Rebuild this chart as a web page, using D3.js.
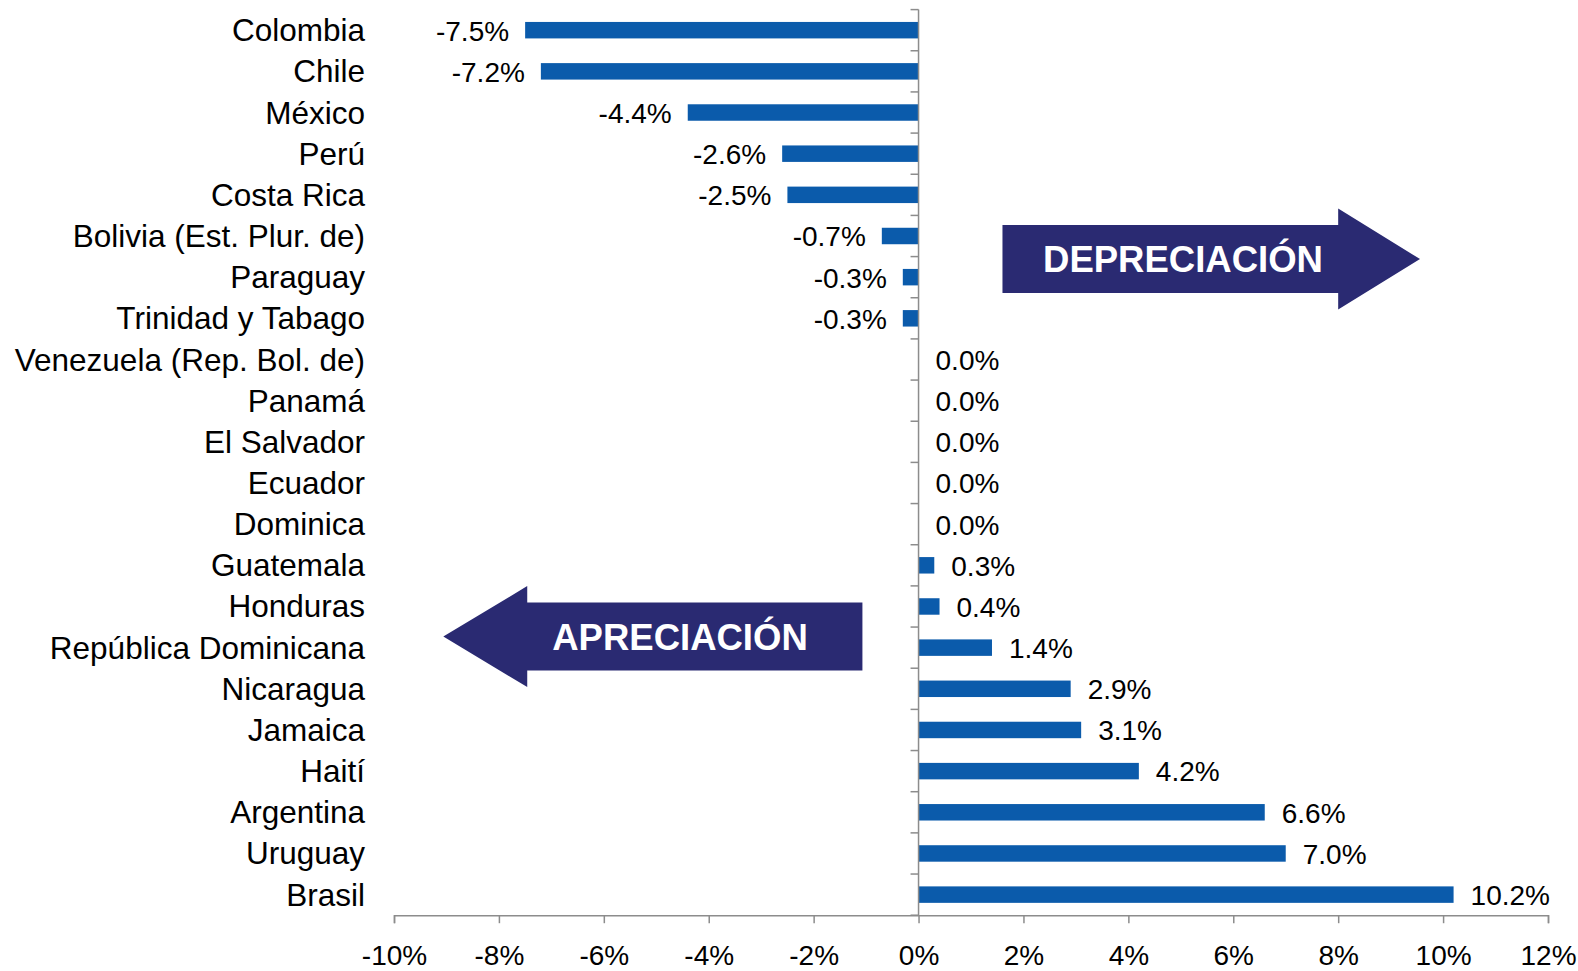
<!DOCTYPE html>
<html>
<head>
  <meta charset="utf-8">
  <title>Variación del tipo de cambio</title>
  <script src="https://cdn.jsdelivr.net/npm/d3@7"></script>
  <style>
    body { margin: 0; background: #fff; }
    text { font-family: "Liberation Sans", Arial, sans-serif; }
  </style>
</head>
<body>
  <svg width="1578" height="971"></svg>
  <script>
// datos
const paises = ["Colombia", "Chile", "México", "Perú", "Costa Rica", "Bolivia (Est. Plur. de)",
  "Paraguay", "Trinidad y Tabago", "Venezuela (Rep. Bol. de)", "Panamá", "El Salvador",
  "Ecuador", "Dominica", "Guatemala", "Honduras", "República Dominicana", "Nicaragua",
  "Jamaica", "Haití", "Argentina", "Uruguay", "Brasil"];
const variacion = [-7.5, -7.2, -4.4, -2.6, -2.5, -0.7, -0.3, -0.3, 0, 0, 0, 0, 0,
  0.3, 0.4, 1.4, 2.9, 3.1, 4.2, 6.6, 7.0, 10.2];
const ticksX = [-10, -8, -6, -4, -2, 0, 2, 4, 6, 8, 10, 12];

const data = paises.map((p, i) => ({ pais: p, v: variacion[i] }));

const svg = d3.select("svg");
const barColor = "#0b5bab";
const axisColor = "#8c8c8c";
const navy = "#2a2a72";

const x = d3.scaleLinear().domain([-10, 12]).range([394, 1548]);
const y = d3.scaleBand().domain(paises).range([9.6, 915.2]).paddingInner(0.6).paddingOuter(0.3);
const step = y.step();

// guion normal en vez del signo menos
const fmt = v => d3.format(".1f")(v).replace("\u2212", "-") + "%";

// barras
svg.append("g").selectAll("rect")
  .data(data.filter(d => d.v !== 0))
  .join("rect")
  .attr("x", d => x(Math.min(0, d.v)))
  .attr("y", d => y(d.pais))
  .attr("width", d => Math.abs(x(d.v) - x(0)))
  .attr("height", y.bandwidth())
  .attr("fill", barColor);

// eje x
const xAxis = svg.append("g")
  .attr("transform", `translate(0,${915.2})`)
  .call(d3.axisBottom(x).tickValues(ticksX).tickSize(8).tickPadding(22)
    .tickFormat(d => d + "%"));
xAxis.select(".domain").attr("stroke", axisColor).attr("stroke-width", 1.5);
xAxis.selectAll(".tick line").attr("stroke", axisColor).attr("stroke-width", 1.5);
xAxis.selectAll(".tick text").attr("fill", "#000").style("font-size", "28px")
  .style("font-family", '"Liberation Sans", Arial, sans-serif');

// eje vertical en 0
const g0 = svg.append("g");
g0.append("line")
  .attr("x1", x(0)).attr("x2", x(0))
  .attr("y1", 9.6).attr("y2", 915.2)
  .attr("stroke", axisColor).attr("stroke-width", 1.5);
g0.selectAll("line.tk")
  .data(d3.range(paises.length + 1))
  .join("line")
  .attr("class", "tk")
  .attr("x1", x(0) - 8).attr("x2", x(0))
  .attr("y1", i => 9.6 + i * step).attr("y2", i => 9.6 + i * step)
  .attr("stroke", axisColor).attr("stroke-width", 1.5);

// etiquetas de categorías
svg.append("g").selectAll("text")
  .data(data)
  .join("text")
  .attr("x", 365)
  .attr("y", d => y(d.pais) + y.bandwidth() / 2)
  .attr("dy", "0.35em")
  .attr("text-anchor", "end")
  .style("font-size", "31.5px")
  .attr("fill", "#000")
  .text(d => d.pais);

// etiquetas de valores
svg.append("g").selectAll("text")
  .data(data)
  .join("text")
  .attr("x", d => d.v < 0 ? x(d.v) - 16 : x(d.v) + 17)
  .attr("y", d => y(d.pais) + y.bandwidth() / 2)
  .attr("dy", "0.37em")
  .attr("text-anchor", d => d.v < 0 ? "end" : "start")
  .style("font-size", "28px")
  .attr("fill", "#000")
  .text(d => fmt(d.v));

// flechas
function flecha(x0, xBase, xTip, cy, hRect, hHead) {
  const p = d3.path();
  p.moveTo(x0, cy - hRect / 2);
  p.lineTo(xBase, cy - hRect / 2);
  p.lineTo(xBase, cy - hHead / 2);
  p.lineTo(xTip, cy);
  p.lineTo(xBase, cy + hHead / 2);
  p.lineTo(xBase, cy + hRect / 2);
  p.lineTo(x0, cy + hRect / 2);
  p.closePath();
  return p.toString();
}

const cyDep = 9.6 + 6 * step + 2.5;
svg.append("path")
  .attr("d", flecha(x(1.6), x(8.0), x(9.56), cyDep, 68, 101))
  .attr("fill", navy);
svg.append("text")
  .attr("x", 1183).attr("y", cyDep).attr("dy", "0.36em")
  .attr("text-anchor", "middle")
  .style("font-size", "36.5px").style("font-weight", "bold")
  .attr("fill", "#fff")
  .text("DEPRECIACIÓN");

const cyApr = 9.6 + 15 * step + 9.5;
svg.append("path")
  .attr("d", flecha(x(-1.07), x(-7.46), x(-9.06), cyApr, 68, 101))
  .attr("fill", navy);
svg.append("text")
  .attr("x", 680).attr("y", cyApr).attr("dy", "0.36em")
  .attr("text-anchor", "middle")
  .style("font-size", "36.5px").style("font-weight", "bold")
  .attr("fill", "#fff")
  .text("APRECIACIÓN");
  </script>
</body>
</html>
